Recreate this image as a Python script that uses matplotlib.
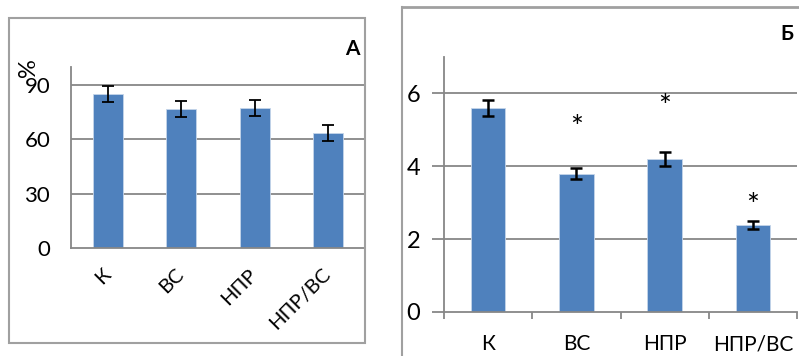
import matplotlib
matplotlib.use("Agg")
import matplotlib.pyplot as plt
from matplotlib.lines import Line2D
from matplotlib.patches import Rectangle
import numpy as np

plt.rcParams["font.family"] = ["Lato", "DejaVu Sans"]

groups = ["К", "ВС", "НПР", "НПР/ВС"]

# panel A: percentage
pct_mean = [85.0, 76.8, 77.3, 63.5]
pct_err = [4.4, 4.6, 4.6, 4.5]
pct_ticks = [0, 30, 60, 90]

# panel Б
val_mean = [5.6, 3.8, 4.2, 2.38]
val_err = [0.22, 0.15, 0.18, 0.11]
val_ticks = [0, 2, 4, 6]
star_groups = ["ВС", "НПР", "НПР/ВС"]
star_heights = [5.06, 5.63, 2.9]

BAR = "#4f81bd"
GRID = "#878787"
FRAME = "#a0a0a0"

W, H = 799, 356
fig = plt.figure(figsize=(W / 100, H / 100), dpi=100)


def px_axes(x0, y0, x1, y1):
    """Axes from pixel box (top-left origin)."""
    return fig.add_axes([x0 / W, 1 - y1 / H, (x1 - x0) / W, (y1 - y0) / H])


def fig_line(xs, ys, **kw):
    fig.add_artist(Line2D([x / W for x in xs], [1 - y / H for y in ys],
                          transform=fig.transFigure, **kw))


def style_axes(ax, ymax, ticks):
    x = np.arange(len(groups))
    ax.set_xlim(-0.5, len(groups) - 0.5)
    ax.set_ylim(0, ymax)
    ax.set_yticks(ticks)
    for t in ticks[1:]:
        ax.axhline(t, color=GRID, lw=1.3, zorder=0)
    for side in ("top", "right"):
        ax.spines[side].set_visible(False)
    for side in ("left", "bottom"):
        ax.spines[side].set_color(GRID)
        ax.spines[side].set_linewidth(1.3)
    ax.set_facecolor("none")
    return x


# --- panel A ---
fig.add_artist(Rectangle((9 / W, 1 - 343 / H), 356 / W, 325 / H,
                         transform=fig.transFigure, fill=False,
                         edgecolor=FRAME, lw=1.5))
ax1 = px_axes(71, 67, 365, 248)
x = style_axes(ax1, 100, pct_ticks)
ax1.bar(x, pct_mean, width=0.41, color=BAR, edgecolor="#c5d5ea", lw=0.6, zorder=2)
ax1.errorbar(x, pct_mean, yerr=pct_err, fmt="none", ecolor="black",
             elinewidth=1.3, capsize=4.5, capthick=1.3, zorder=3)
ax1.tick_params(axis="y", length=0, pad=15, labelsize=16)
ax1.tick_params(axis="x", length=0, pad=17, labelsize=14.5)
ax1.set_xticks(x)
ax1.set_xticklabels(groups, rotation=45, ha="right", va="center",
                    rotation_mode="anchor")
fig.text(28 / W, 1 - 68 / H, "%", rotation=90, ha="center", va="center",
         fontsize=17)
fig.text(352 / W, 1 - 49 / H, "А", ha="center", va="center",
         fontsize=15, fontweight="bold")

# --- panel Б ---
fig_line([402, 402], [7, 360], color=FRAME, lw=1.5)
fig_line([402, 805], [7, 7], color=FRAME, lw=2)
ax2 = px_axes(444, 57, 797, 312)
x = style_axes(ax2, 7, val_ticks)
ax2.bar(x, val_mean, width=0.39, color=BAR, edgecolor="#c5d5ea", lw=0.6, zorder=2)
ax2.errorbar(x, val_mean, yerr=val_err, fmt="none", ecolor="black",
             elinewidth=1.8, capsize=4.5, capthick=1.8, zorder=3)
ax2.set_xticks(np.arange(len(groups) + 1) - 0.5, minor=False)
ax2.set_xticklabels([])
ax2.set_xticks(x, minor=True)
ax2.set_xticklabels(groups, minor=True)
ax2.tick_params(axis="x", which="major", length=5, width=1.3, color=GRID)
ax2.tick_params(axis="x", which="minor", length=0, pad=16, labelsize=15)
ax2.tick_params(axis="y", length=9, width=1.3, color=GRID, pad=8, labelsize=17)
for g, h in zip(star_groups, star_heights):
    ax2.text(groups.index(g), h, "*", ha="center", va="center", fontsize=22)
fig.text(787 / W, 1 - 34 / H, "Б", ha="center", va="center",
         fontsize=15, fontweight="bold")

fig.savefig("out.png", dpi=100)
